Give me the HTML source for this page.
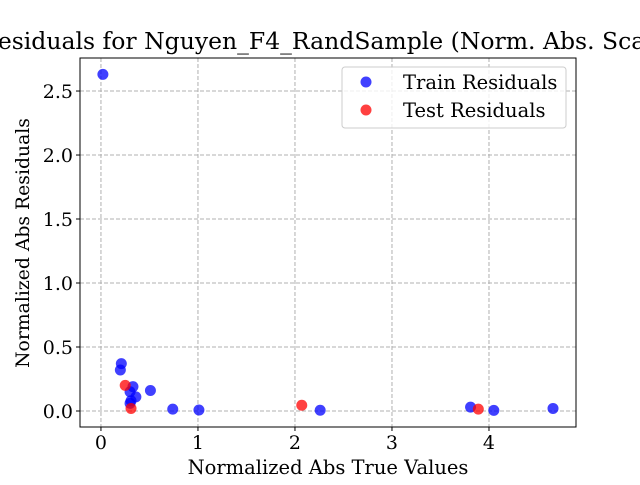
<!DOCTYPE html>
<html><head><meta charset="utf-8"><style>
body{margin:0;background:#fff}
svg text{font-family:"DejaVu Serif","Liberation Serif",serif;fill:#000}
</style></head><body>
<svg id="chart" width="640" height="480">
<text x="328" y="49" font-size="23.5" text-anchor="middle">Residuals for Nguyen_F4_RandSample (Norm. Abs. Scale)</text>
<g id="grid"></g>
<g id="pts"></g>
<rect x="80" y="58" width="496" height="369" fill="none" stroke="#000" stroke-width="1"/>
<g id="ticks"></g>
<text x="328" y="474" font-size="19.5" text-anchor="middle">Normalized Abs True Values</text>
<text transform="translate(29,243) rotate(-90)" font-size="18.8" text-anchor="middle">Normalized Abs Residuals</text>
<g>
<rect x="342" y="67" width="224" height="61" rx="3" fill="#fff" fill-opacity="0.8" stroke="#ccc"/>
<circle cx="366" cy="82" r="5.5" fill="#0000ff" fill-opacity="0.75"/>
<text x="403" y="89" font-size="19.5">Train Residuals</text>
<circle cx="366" cy="110" r="5.5" fill="#ff0000" fill-opacity="0.75"/>
<text x="403" y="117" font-size="19.5">Test Residuals</text>
</g>
</svg>
<script>
const trainX=[0.02,0.21,0.20,0.33,0.30,0.36,0.31,0.30,0.51,0.74,1.01,2.26,3.81,4.05,4.66];
const trainY=[2.63,0.37,0.32,0.19,0.15,0.11,0.08,0.06,0.16,0.015,0.008,0.006,0.03,0.005,0.02];
const testX=[0.25,0.31,2.07,3.89];
const testY=[0.20,0.02,0.045,0.015];
const xTicks=[0,1,2,3,4];
const yTicks=[0.0,0.5,1.0,1.5,2.0,2.5];
const NS="http://www.w3.org/2000/svg";
const L=80,R=576,T=58,B=427,xmin=-0.216,xmax=4.897,ymin=-0.125,ymax=2.758;
const sx=v=>L+(v-xmin)/(xmax-xmin)*(R-L);
const sy=v=>B-(v-ymin)/(ymax-ymin)*(B-T);
function mk(tag,attrs,parent){const e=document.createElementNS(NS,tag);for(const k in attrs)e.setAttribute(k,attrs[k]);parent.appendChild(e);return e;}
const grid=document.getElementById('grid'),ticks=document.getElementById('ticks'),pts=document.getElementById('pts');
xTicks.forEach(t=>{const x=sx(t);
const g=mk('line',{x1:x,x2:x,y1:T,y2:B,stroke:'#b0b0b0','stroke-dasharray':'4,2'},grid);


mk('line',{x1:x,x2:x,y1:B,y2:B+4,stroke:'#000'},ticks);
const tx=mk('text',{x:x,y:B+22,'font-size':'19','text-anchor':'middle'},ticks);tx.textContent=t;

});
yTicks.forEach(t=>{const y=sy(t);
const g=mk('line',{x1:L,x2:R,y1:y,y2:y,stroke:'#b0b0b0','stroke-dasharray':'4,2'},grid);


mk('line',{x1:L-4,x2:L,y1:y,y2:y,stroke:'#000'},ticks);
const tx=mk('text',{x:L-7,y:y+7,'font-size':'19','text-anchor':'end'},ticks);tx.textContent=t.toFixed(1);

});
trainX.forEach((v,i)=>{const c=mk('circle',{cx:sx(v),cy:sy(trainY[i]),r:5.5,fill:'#0000ff','fill-opacity':0.75},pts);

});
testX.forEach((v,i)=>{const c=mk('circle',{cx:sx(v),cy:sy(testY[i]),r:5.5,fill:'#ff0000','fill-opacity':0.75},pts);

});
</script>
</body></html>
